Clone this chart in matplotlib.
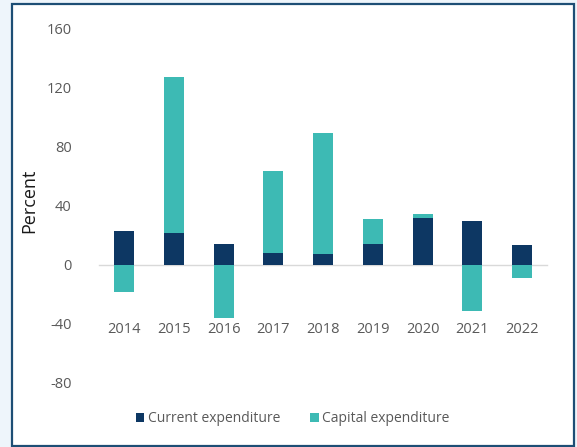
import matplotlib
matplotlib.use("Agg")
import matplotlib.pyplot as plt
from matplotlib.patches import Rectangle, Patch
import numpy as np

plt.rcParams['font.family'] = ['Open Sans', 'DejaVu Sans']

years = ["2014", "2015", "2016", "2017", "2018", "2019", "2020", "2021", "2022"]
current_exp = [22.4, 21.3, 13.6, 7.9, 7.0, 14.0, 31.7, 29.2, 13.1]
capital_exp = [-18.3, 105.7, -36.4, 55.2, 81.9, 16.8, 2.7, -31.5, -9.0]
y_ticks = [-80, -40, 0, 40, 80, 120, 160]

navy = "#0d3763"
teal = "#3dbab4"
grey_text = "#595959"

W, H = 577, 447
fig = plt.figure(figsize=(W / 100, H / 100), dpi=100, facecolor="#eef5fb")

# white panel with dark blue frame
panel = Rectangle((11.7 / W, 1 - 445.7 / H), (573.7 - 11.7) / W, (445.7 - 3.5) / H,
                  transform=fig.transFigure, facecolor="white",
                  edgecolor="#1d4e75", linewidth=1.6, zorder=-10)
fig.patches.append(panel)

ax = fig.add_axes([99.3 / W, 1 - 382.7 / H, 447.7 / W, (382.7 - 28.3) / H])
ax.set_zorder(5)
ax.set_facecolor("none")

x = np.arange(len(years))
cur = np.array(current_exp)
cap = np.array(capital_exp)
cap_bottom = np.where(cap > 0, cur, 0.0)

width = 0.4
ax.bar(x, cur, width=width, color=navy, zorder=3)
ax.bar(x, cap, width=width, bottom=cap_bottom, color=teal, zorder=3)

ax.set_xlim(-0.5, len(years) - 0.5)
ax.set_ylim(-80, 160)
ax.set_yticks(y_ticks)
ax.set_yticklabels([str(v) for v in y_ticks])

for s in ["top", "right", "left"]:
    ax.spines[s].set_visible(False)
ax.spines["bottom"].set_position(("data", 0))
ax.spines["bottom"].set_color("#d9d9d9")
ax.spines["bottom"].set_linewidth(1.0)
ax.spines["bottom"].set_zorder(2)

ax.set_xticks(x)
ax.set_xticklabels(years)
ax.tick_params(axis="x", length=0, pad=41, labelsize=10.5, labelcolor=grey_text)
ax.tick_params(axis="y", length=0, pad=20, labelsize=10.5, labelcolor=grey_text)

ax.set_ylabel("Percent", fontsize=13, color="#1a1a1a")
ax.yaxis.set_label_coords((38.5 - 99.3) / 447.7, (382.7 - 201) / (382.7 - 28.3))

handles = [Patch(facecolor=navy, label="Current expenditure"),
           Patch(facecolor=teal, label="Capital expenditure")]
fig.legend(handles=handles, loc="center", bbox_to_anchor=(292.7 / W, 1 - 419 / H),
           ncol=2, frameon=False, fontsize=10, labelcolor=grey_text,
           handlelength=0.6, handleheight=0.6, handletextpad=0.25, columnspacing=2.2)

fig.savefig("out.png", dpi=100, facecolor=fig.get_facecolor())
